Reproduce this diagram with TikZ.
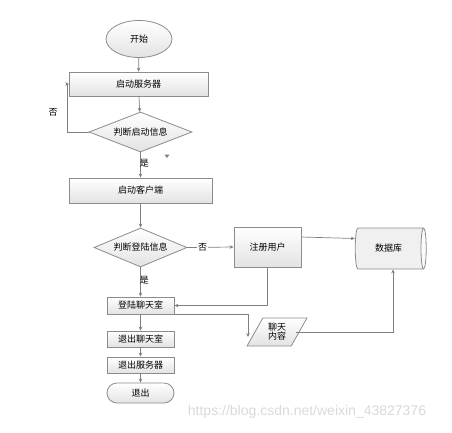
\documentclass[tikz,border=0pt]{standalone}
\usepackage{fontspec}
\newfontfamily\cjk{Noto Sans CJK SC}
\newfontfamily\wm{Liberation Sans}
\usetikzlibrary{shapes.geometric,arrows.meta,calc}
\definecolor{edge}{HTML}{8C8C8C}
\definecolor{lineg}{HTML}{7F7F7F}
\tikzset{
  base/.style={draw=edge, line width=0.8pt, top color=white, bottom color=gray!22, font=\cjk\fontsize{9}{10}\selectfont, inner sep=0pt},
  box/.style={base, rectangle, minimum width=#1},
  startnode/.style={base, ellipse, minimum width=66, minimum height=37},
  decision/.style={base, diamond, minimum width=#1, minimum height=40, aspect=2.5},
  endnode/.style={base, rectangle, rounded corners=10pt, minimum width=67, minimum height=20},
  dbnode/.style={draw=edge, line width=0.8pt, cylinder, shape aspect=0.35, minimum width=41, minimum height=71, cylinder uses custom fill, cylinder body fill=gray!12, cylinder end fill=gray!4, font=\cjk\fontsize{9}{10}\selectfont},
  datanode/.style={base, trapezium, trapezium left angle=60, trapezium right angle=120, trapezium stretches=true, minimum width=60, minimum height=28, align=center, font=\cjk\fontsize{9}{9}\selectfont},
  conn/.style={draw=lineg, line width=0.7pt, -{Stealth[length=4pt,width=3.5pt]}},
  lbl/.style={font=\cjk\fontsize{9}{10}\selectfont, inner sep=1pt}
}
\begin{document}
\begin{tikzpicture}[x=1pt,y=-1pt]
\useasboundingbox (0,0) rectangle (452,432);
\node[startnode] (start) at (139,39) {开始};
\node[box=139, minimum height=24] (srv) at (138.5,84) {启动服务器};
\node[decision=103] (d1) at (140.5,132) {判断启动信息};
\node[box=143, minimum height=25] (cli) at (140.5,190.5) {启动客户端};
\node[decision=93, minimum height=39] (d2) at (140.5,247.5) {判断登陆信息};
\node[box=67, minimum height=40] (reg) at (267.5,247) {注册用户};
\node[dbnode] (db) at (388.5,248.5) {数据库};
\node[box=67, minimum height=17] (login) at (140.5,305.5) {登陆聊天室};
\node[box=67, minimum height=16] (quit1) at (140.5,339) {退出聊天室};
\node[box=67, minimum height=16] (quit2) at (140.5,365) {退出服务器};
\node[endnode] (quit) at (140.5,393) {退出};
\node[datanode] (pc) at (277,332) {聊天\\内容};
\node[font=\wm\fontsize{14}{14}\selectfont, text=gray!30] (wm) at (307,412) {https://blog.csdn.net/weixin\_43827376};

\coordinate (fbx) at (67,132);
\coordinate (pcin) at (248,337);
\coordinate (mark) at (167,156);

\draw[conn] (start) -- (srv);
\draw[conn] (srv) -- (d1);
\draw[conn] (d1.west) -- (fbx) |- ([xshift=0.5]srv.west);
\node[lbl] (no1) at (53,112) {否};
\draw[conn] (d1) -- (cli) node[lbl, pos=0.42, right=-2pt] (yes1) {是};
\draw[conn] (cli) -- (d2);
\draw[conn] (d2.east) -- (reg.west) node[lbl, pos=0.33, fill=white] (no2) {否};
\draw[conn] (d2) -- (login) node[lbl, pos=0.45, right=-2pt] (yes2) {是};
\draw[conn] ([yshift=10]reg.east) -- ([yshift=10]db.west);
\draw[conn] (reg.south) |- (login.east);
\draw[conn] ([yshift=0.5]login.south east) -| (pcin);
\draw[conn] ([xshift=-4]pc.east) -| ([xshift=4.5]db.south);
\draw[conn] (login) -- (quit1);
\draw[conn] (quit1) -- (quit2);
\draw[conn] (quit2) -- (quit);
\fill[lineg] ($(mark)+(-2.5,-1.5)$) -- ($(mark)+(2.5,-1.5)$) -- ($(mark)+(0,2)$) -- cycle;
\end{tikzpicture}
\end{document}
